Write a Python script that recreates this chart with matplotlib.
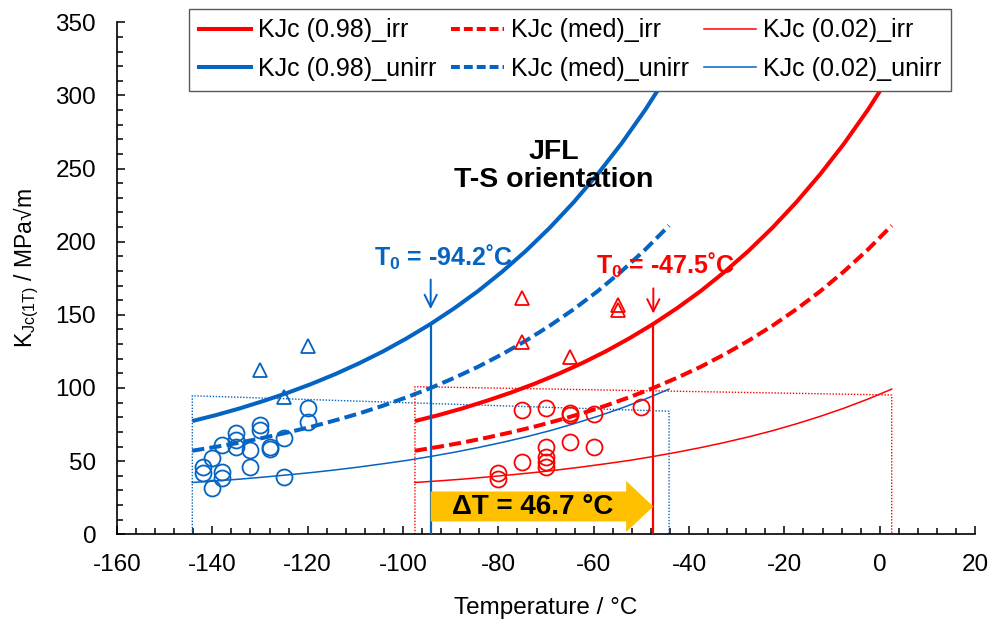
import numpy as np
import matplotlib.pyplot as plt
import matplotlib.patches as mpatches
from matplotlib.lines import Line2D
from matplotlib.ticker import MultipleLocator

# =========================
# data
# =========================
T0_unirr = -94.2
T0_irr = -47.5
dT_text = "\u0394T = 46.7 \u00b0C"

# master-curve sampling temperatures, T0 -50 ... T0 +50
T_unirr = [-144.2, -139.2, -134.2, -129.2, -124.2, -119.2, -114.2, -109.2, -104.2, -99.2, -94.2,
           -89.2, -84.2, -79.2, -74.2, -69.2, -64.2, -59.2, -54.2, -49.2, -44.2]
T_irr = [-97.5, -92.5, -87.5, -82.5, -77.5, -72.5, -67.5, -62.5, -57.5, -52.5, -47.5,
         -42.5, -37.5, -32.5, -27.5, -22.5, -17.5, -12.5, -7.5, -2.5, 2.5]

# both materials have the same curve shape, shifted by T0
K98 = [77.4, 81.5, 86.1, 91.2, 96.7, 102.8, 109.5, 116.9, 125.0, 134.0, 143.8,
       154.6, 166.4, 179.5, 193.8, 209.6, 227.0, 246.1, 267.0, 290.1, 315.5]
Kmed = [57.1, 59.8, 62.7, 66.0, 69.6, 73.5, 77.9, 82.6, 87.9, 93.7, 100.0,
        107.0, 114.6, 123.1, 132.4, 142.6, 153.8, 166.1, 179.7, 194.6, 211.0]
K02 = [35.4, 36.5, 37.7, 39.1, 40.6, 42.2, 44.0, 46.0, 48.2, 50.5, 53.2,
       56.1, 59.3, 62.8, 66.6, 70.8, 75.5, 80.6, 86.2, 92.4, 99.2]

# validity limits (dotted boxes)
lim_T_unirr = [-144.2, -44.2]
lim_K_unirr = [94.7, 84.1]
lim_T_irr = [-97.5, 2.5]
lim_K_irr = [100.9, 95.2]

# unirradiated data
circ_T_unirr = [-120, -120, -130, -130, -135, -135, -138, -135, -132, -128, -128, -125,
                -140, -142, -142, -138, -138, -132, -140, -125]
circ_K_unirr = [86.0, 77.0, 74.7, 71.3, 69.0, 64.5, 61.0, 60.0, 57.6, 60.0, 58.0, 65.6,
                52.0, 46.2, 41.7, 42.8, 38.3, 46.2, 31.4, 39.4]
tri_T_unirr = [-130, -120, -125]
tri_K_unirr = [112.0, 128.8, 93.9]

# irradiated data
circ_T_irr = [-75, -70, -65, -65, -60, -50, -70, -65, -60, -75, -70, -70, -70, -80, -80]
circ_K_irr = [85.0, 86.1, 82.7, 81.5, 82.2, 87.2, 59.9, 63.3, 59.9, 49.6, 53.0, 49.6, 46.2, 42.1, 38.0]
tri_T_irr = [-75, -55, -55, -75, -65]
tri_K_irr = [161.3, 156.7, 153.3, 131.6, 121.4]

# =========================
# style
# =========================
plt.rcParams['font.family'] = ['Liberation Sans', 'DejaVu Sans']
plt.rcParams['mathtext.fontset'] = 'custom'
plt.rcParams['mathtext.rm'] = 'Liberation Sans'
plt.rcParams['mathtext.bf'] = 'Liberation Sans:bold'
plt.rcParams['mathtext.it'] = 'Liberation Sans:italic'
plt.rcParams['axes.unicode_minus'] = False

RED = '#FF0000'
BLUE = '#0563C1'
ORANGE = '#FFC000'
DASH = (3.0, 1.3)

fig = plt.figure(figsize=(9.93, 6.23), dpi=100)
ax = fig.add_axes([0.1178, 0.1424, 0.8642, 0.8219])

# validity boxes
for T, K, c in [(lim_T_unirr, lim_K_unirr, BLUE), (lim_T_irr, lim_K_irr, RED)]:
    ax.plot([T[0], T[0], T[1], T[1]], [0, K[0], K[1], 0], color=c, lw=1.0,
            linestyle=(0, (1, 1.2)), zorder=2)

# master curves
ax.plot(T_irr, K98, color=RED, lw=2.9, solid_capstyle='butt', zorder=3)
ax.plot(T_irr, Kmed, color=RED, lw=2.9, dashes=DASH, dash_capstyle='butt', zorder=3)
ax.plot(T_irr, K02, color=RED, lw=1.1, zorder=3)
ax.plot(T_unirr, K98, color=BLUE, lw=2.9, solid_capstyle='butt', zorder=3)
ax.plot(T_unirr, Kmed, color=BLUE, lw=2.9, dashes=DASH, dash_capstyle='butt', zorder=3)
ax.plot(T_unirr, K02, color=BLUE, lw=1.1, zorder=3)

# data points
ax.plot(circ_T_unirr, circ_K_unirr, 'o', ms=11.5, mfc='none', mec=BLUE, mew=1.3, zorder=4)
ax.plot(tri_T_unirr, tri_K_unirr, '^', ms=10, mfc='none', mec=BLUE, mew=1.3, zorder=4)
ax.plot(circ_T_irr, circ_K_irr, 'o', ms=11.5, mfc='none', mec=RED, mew=1.3, zorder=4)
ax.plot(tri_T_irr, tri_K_irr, '^', ms=10, mfc='none', mec=RED, mew=1.3, zorder=4)

# T0 markers
k_at_t0 = K98[10]
ax.plot([T0_unirr, T0_unirr], [0, k_at_t0], color=BLUE, lw=1.6, zorder=3)
ax.plot([T0_irr, T0_irr], [0, k_at_t0], color=RED, lw=1.6, zorder=3)
ax.annotate('', xy=(T0_unirr, 152), xytext=(T0_unirr, 176),
            arrowprops=dict(arrowstyle='->', color=BLUE, lw=1.4, mutation_scale=22))
ax.annotate('', xy=(T0_irr, 149), xytext=(T0_irr, 170),
            arrowprops=dict(arrowstyle='->', color=RED, lw=1.4, mutation_scale=22))
ax.text(-106, 189, r'T$_{\mathbf{0}}$ = -94.2˚C', color=BLUE, fontsize=18,
        fontweight='bold', ha='left', va='center')
ax.text(-59.6, 184, r'T$_{\mathbf{0}}$ = -47.5˚C', color=RED, fontsize=18,
        fontweight='bold', ha='left', va='center')

# delta T arrow
arr = mpatches.FancyArrow(T0_unirr, 19, T0_irr - T0_unirr, 0, width=20.5, head_width=35,
                          head_length=5.7, length_includes_head=True,
                          color=ORANGE, lw=0, zorder=5)
ax.add_patch(arr)
ax.text(-72.9, 18.5, dT_text, fontsize=20, fontweight='bold', color='black',
        ha='center', va='center', zorder=6)

ax.text(-68.3, 252, 'JFL\nT-S orientation', fontsize=20.5, fontweight='bold',
        ha='center', va='center', linespacing=1.1)

# axes
ax.set_xlim(-160, 20)
ax.set_ylim(0, 350)
ax.xaxis.set_major_locator(MultipleLocator(20))
ax.xaxis.set_minor_locator(MultipleLocator(4))
ax.yaxis.set_major_locator(MultipleLocator(50))
ax.yaxis.set_minor_locator(MultipleLocator(10))
ax.tick_params(which='both', direction='in', color='black', width=1.1)
ax.tick_params(which='major', length=6, labelsize=17.5)
ax.tick_params(axis='x', which='major', pad=14)
ax.tick_params(axis='y', which='major', pad=15)
ax.tick_params(which='minor', length=4)
for s in ['top', 'right']:
    ax.spines[s].set_visible(False)
for s in ['left', 'bottom']:
    ax.spines[s].set_linewidth(1.2)
ax.set_xlabel('Temperature / \u00b0C', fontsize=17.5, labelpad=15)
ax.set_ylabel(r'K$_{\mathrm{Jc(1T)}}$ / MPa√m', fontsize=16.5)
ax.yaxis.set_label_coords(-0.088, 0.52)

# legend
handles = [
    Line2D([], [], color=RED, lw=2.9), Line2D([], [], color=BLUE, lw=2.9),
    Line2D([], [], color=RED, lw=2.9, dashes=(2.2, 1.0)), Line2D([], [], color=BLUE, lw=2.9, dashes=(2.2, 1.0)),
    Line2D([], [], color=RED, lw=1.1), Line2D([], [], color=BLUE, lw=1.1),
]
labels = ['KJc (0.98)_irr', 'KJc (0.98)_unirr', 'KJc (med)_irr', 'KJc (med)_unirr',
          'KJc (0.02)_irr', 'KJc (0.02)_unirr']
leg = fig.legend(handles, labels, ncol=3, loc='upper left',
                 bbox_to_anchor=(189 / 993, 1 - 9 / 623), borderaxespad=0,
                 fontsize=18, frameon=True, fancybox=False, framealpha=1,
                 edgecolor='#595959', handlelength=2.1, handletextpad=0.28,
                 columnspacing=0.6, labelspacing=0.58, borderpad=0.38)
leg.get_frame().set_linewidth(1.0)
leg.set_zorder(10)

fig.savefig('out.png', dpi=100)
